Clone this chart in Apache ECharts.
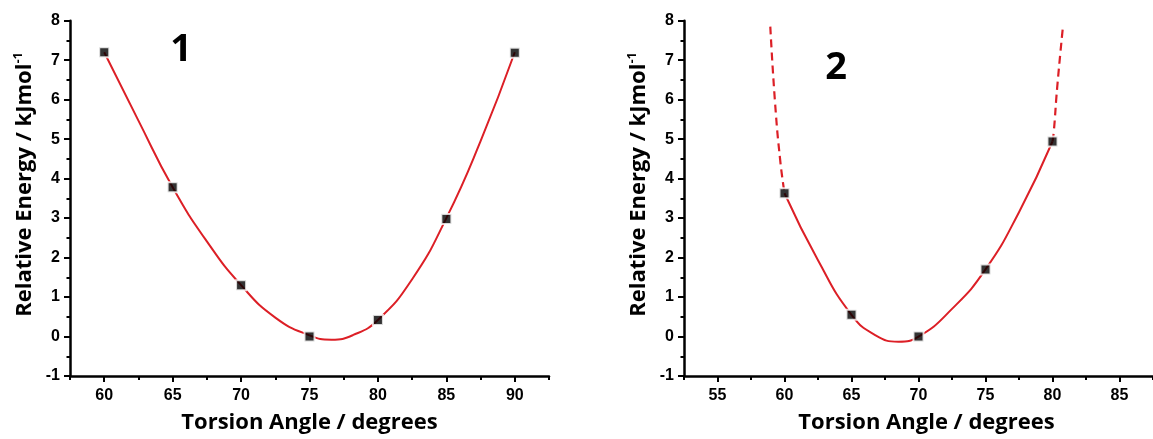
<!DOCTYPE html>
<html>
<head>
<meta charset="utf-8">
<script src="https://cdn.jsdelivr.net/npm/echarts@6/dist/echarts.min.js"></script>
<style>
html,body{margin:0;padding:0;background:#fff;overflow:hidden;}
#c{width:1153px;height:439px;}
</style>
</head>
<body>
<div id="c"></div>
<script>
// Panel 1 data
var points1X = [60, 65, 70, 75, 80, 85, 90];
var points1Y = [7.2, 3.78, 1.3, 0.0, 0.42, 2.98, 7.19];
var curve1 = [[60,7.2],[62.5,5.47],[65,3.78],[67.5,2.41],[70,1.3],[72.5,0.48],[75,0.03],[76.6,-0.08],[78.2,0.04],[80,0.42],[82.5,1.45],[85,3.0],[87.5,4.95],[90,7.2]];
// Panel 2 data
var points2X = [60, 65, 70, 75, 80];
var points2Y = [3.63, 0.55, 0.0, 1.7, 4.94];
var curve2 = [[60,3.63],[62.5,1.93],[65,0.55],[66.8,0.03],[68.5,-0.13],[70,0.0],[72.5,0.7],[75,1.7],[77.5,3.15],[80,4.94]];
var curve2DashLeft = [[58.94,7.85],[59.3,5.9],[59.68,4.46],[60,3.63]];
var curve2DashRight = [[80,4.94],[80.1,5.2],[80.35,6.31],[80.78,7.85]];
// Tick labels
var xTicks1 = [60, 65, 70, 75, 80, 85, 90];
var xTicks2 = [55, 60, 65, 70, 75, 80, 85];
var yTicks = [-1, 0, 1, 2, 3, 4, 5, 6, 7, 8];

function zip(xs, ys){ return xs.map(function(x,i){return [x, ys[i]];}); }

var tickFont = {fontFamily:'Liberation Sans, Arial, sans-serif', fontWeight:'bold', fontSize:16, color:'#000'};
var titleFont = {fontFamily:'Open Sans, sans-serif', fontWeight:'bold', fontSize:22, color:'#000'};

function xAxisMain(gi, min, max, ticks, padLeft){
  return {
    type:'value', gridIndex:gi, position:'bottom', min:min, max:max, interval:2.5,
    axisLine:{show:true, onZero:false, lineStyle:{color:'#000', width:2.5}},
    axisTick:{show:true, length:6, lineStyle:{color:'#000', width:2}, customValues:ticks},
    axisLabel:Object.assign({margin:12, customValues:ticks}, tickFont),
    splitLine:{show:false},
    name:'Torsion Angle / degrees', nameLocation:'middle', nameGap:36,
    nameTextStyle:Object.assign({padding:[0,0,0,padLeft]}, titleFont)
  };
}
function xAxisMinor(gi, min, max){
  return {
    type:'value', gridIndex:gi, position:'bottom', min:min, max:max, interval:2.5,
    axisLine:{show:false, onZero:false},
    axisTick:{show:true, length:4, lineStyle:{color:'#000', width:2}},
    axisLabel:{show:false}, splitLine:{show:false}
  };
}
function yAxis(gi){
  return {
    type:'value', gridIndex:gi, min:-1, max:8, interval:1,
    axisLine:{show:true, onZero:false, lineStyle:{color:'#000', width:2.5}},
    axisTick:{show:true, length:6, lineStyle:{color:'#000', width:2}, customValues:yTicks},
    minorTick:{show:true, splitNumber:2, length:3.5, lineStyle:{color:'#000', width:2}},
    axisLabel:Object.assign({margin:10, customValues:yTicks}, tickFont),
    splitLine:{show:false},
    name:'{a|Relative Energy / kJmol}{s|-1}', nameLocation:'middle', nameGap:32,
    nameTextStyle:{padding:[0,0,0,28], rich:{
      a:{fontFamily:'Open Sans, sans-serif', fontWeight:'bold', fontSize:22, color:'#000', lineHeight:26},
      s:{fontFamily:'Open Sans, sans-serif', fontWeight:'bold', fontSize:13, color:'#000', lineHeight:26, verticalAlign:'top', padding:[0,0,9,0]}
    }}
  };
}

var markerStyle = {color:'#000', borderColor:'#fff', borderWidth:2};

var option = {
  animation:false,
  backgroundColor:'#fff',
  grid:[
    {left:70, top:20.7, width:479, height:355.8},
    {left:684, top:20.7, width:478, height:355.8}
  ],
  xAxis:[
    xAxisMain(0, 57.5, 92.5, xTicks1, 0),
    xAxisMinor(0, 57.5, 92.5),
    xAxisMain(1, 52.5, 87.5, xTicks2, 16),
    xAxisMinor(1, 52.5, 87.5)
  ],
  yAxis:[yAxis(0), yAxis(1)],
  graphic:[
    {type:'text', x:181, y:50, style:{text:'1', font:'bold 38px "Open Sans", sans-serif', fill:'#000', textAlign:'center', textVerticalAlign:'middle'}},
    {type:'text', x:836, y:68, style:{text:'2', font:'bold 38px "Open Sans", sans-serif', fill:'#000', textAlign:'center', textVerticalAlign:'middle'}}
  ],
  series:[
    {type:'line', xAxisIndex:0, yAxisIndex:0, data:curve1, smooth:0.5, showSymbol:false, lineStyle:{color:'#dc1f26', width:2}, z:2},
    {type:'scatter', xAxisIndex:0, yAxisIndex:0, data:zip(points1X, points1Y), symbol:'rect', symbolSize:10, itemStyle:markerStyle, z:5},
    {type:'line', xAxisIndex:2, yAxisIndex:1, data:curve2, smooth:0.5, showSymbol:false, lineStyle:{color:'#dc1f26', width:2}, z:2},
    {type:'line', xAxisIndex:2, yAxisIndex:1, data:curve2DashLeft, smooth:0.5, showSymbol:false, lineStyle:{color:'#dc1f26', width:2.2, type:[8,5]}, z:2},
    {type:'line', xAxisIndex:2, yAxisIndex:1, data:curve2DashRight, smooth:0.5, showSymbol:false, lineStyle:{color:'#dc1f26', width:2.2, type:[8,5]}, z:2},
    {type:'scatter', xAxisIndex:2, yAxisIndex:1, data:zip(points2X, points2Y), symbol:'rect', symbolSize:10, itemStyle:markerStyle, z:5}
  ]
};
var chart = echarts.init(document.getElementById('c'), null, {renderer:'canvas'});
chart.setOption(option);
</script>
</body>
</html>
